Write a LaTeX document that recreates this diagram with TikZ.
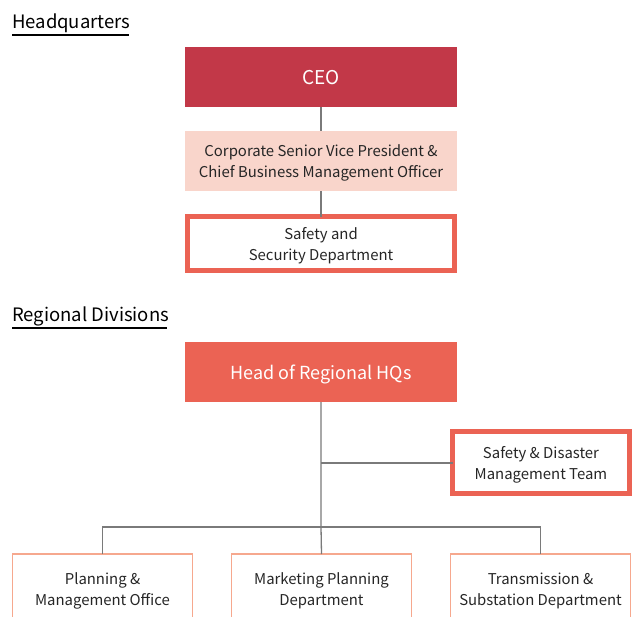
\documentclass[tikz,border=0pt]{standalone}
\usepackage{fontspec}
\setmainfont{Noto Sans CJK KR}
\definecolor{ceo}{HTML}{C23848}
\definecolor{peach}{HTML}{F9D5CB}
\definecolor{coral}{HTML}{EB6354}
\definecolor{lightor}{HTML}{F6A88E}
\definecolor{conn}{HTML}{7A7A7A}
\begin{document}
\begin{tikzpicture}[x=1pt,y=-1pt,
  box/.style={minimum width=#1pt,anchor=north west,inner sep=0pt,outer sep=0pt,align=center,text depth=0pt,font=\fontsize{14.9}{21}\selectfont},
  title/.style={anchor=base west,inner sep=0pt,font=\fontsize{18.5}{22}\selectfont},
  line/.style={draw=conn,line width=1.3pt}]
\useasboundingbox (0,0) rectangle (632,616);
% titles
\node[title] (hq) at (12,28) {Headquarters};
\draw[line width=1.5pt] (12,35) -- (129,35);
\node[title] (rd) at (12,321) {Regional Divisions};
\draw[line width=1.5pt] (12,328) -- (167,328);
% HQ boxes
\node[box=272,minimum height=60pt,fill=ceo,text=white,font=\fontsize{19}{22}\selectfont] (ceo) at (185,47) {CEO};
\node[box=272,minimum height=60pt,fill=peach,text=black!85] (csvp) at (185,131) {Corporate Senior Vice President \&\\Chief Business Management Officer};
\node[box=267,minimum height=54pt,draw=coral,line width=5pt,text=black!85] (ssd) at (187.5,216.5) {Safety and\\Security Department};
\draw[line] (ceo.south) -- (csvp.north);
\draw[line] (csvp.south) -- (ssd.north);
% Regional
\node[box=272,minimum height=60pt,fill=coral,text=white,font=\fontsize{18}{22}\selectfont] (head) at (185,342) {Head of Regional HQs};
\node[box=177,minimum height=62pt,draw=coral,line width=5pt,text=black!85] (sdm) at (452.5,431.5) {Safety \& Disaster\\Management Team};
\node[box=180,minimum height=70pt,draw=lightor,line width=1.3pt,text=black!85] (pmo) at (12.5,554) {Planning \&\\Management Office};
\node[box=180,minimum height=70pt,draw=lightor,line width=1.3pt,text=black!85] (mpd) at (231.5,554) {Marketing Planning\\Department};
\node[box=180,minimum height=70pt,draw=lightor,line width=1.3pt,text=black!85] (tsd) at (450.5,554) {Transmission \&\\Substation Department};
\coordinate (br) at (321,463);
\coordinate (hb) at (321,527);
\draw[line] (head.south) -- (hb) -- (mpd.north);
\draw[line] (br) -- (sdm.west |- br);
\draw[line] (pmo.north) |- (hb) -| (tsd.north);
\end{tikzpicture}
\end{document}
